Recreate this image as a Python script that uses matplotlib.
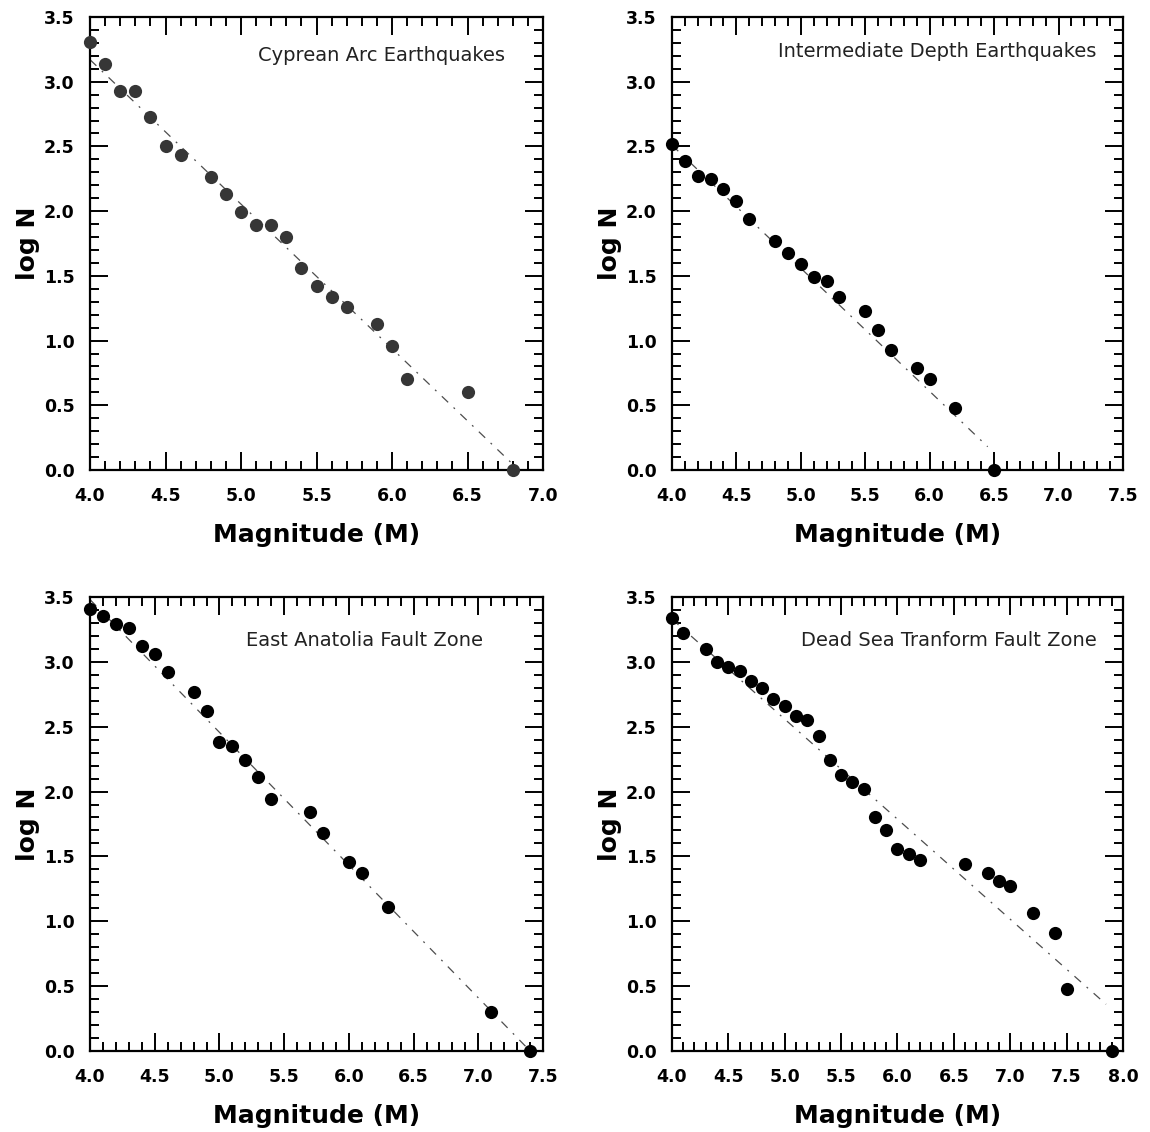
import matplotlib
matplotlib.use('Agg')
import matplotlib.pyplot as plt
from matplotlib.ticker import MultipleLocator

# --- data (magnitude vs log N) ---
cyp_m = [4.0, 4.1, 4.2, 4.3, 4.4, 4.5, 4.6, 4.8, 4.9, 5.0, 5.1, 5.2, 5.3,
         5.4, 5.5, 5.6, 5.7, 5.9, 6.0, 6.1, 6.5, 6.8]
cyp_logn = [3.31, 3.14, 2.93, 2.93, 2.73, 2.50, 2.43, 2.26, 2.13, 1.99, 1.89,
            1.89, 1.80, 1.56, 1.42, 1.34, 1.26, 1.13, 0.96, 0.70, 0.60, 0.0]
cyp_fit_m = [4.0, 6.84]
cyp_fit_logn = [3.17, 0.0]

int_m = [4.0, 4.1, 4.2, 4.3, 4.4, 4.5, 4.6, 4.8, 4.9, 5.0, 5.1, 5.2, 5.3,
         5.5, 5.6, 5.7, 5.9, 6.0, 6.2, 6.5]
int_logn = [2.52, 2.39, 2.27, 2.25, 2.17, 2.08, 1.94, 1.77, 1.68, 1.59, 1.49,
            1.46, 1.34, 1.23, 1.08, 0.93, 0.79, 0.70, 0.48, 0.0]
int_fit_m = [4.0, 6.45]
int_fit_logn = [2.51, 0.18]

eaf_m = [4.0, 4.1, 4.2, 4.3, 4.4, 4.5, 4.6, 4.8, 4.9, 5.0, 5.1, 5.2, 5.3,
         5.4, 5.7, 5.8, 6.0, 6.1, 6.3, 7.1, 7.4]
eaf_logn = [3.41, 3.35, 3.29, 3.26, 3.12, 3.06, 2.92, 2.77, 2.62, 2.38, 2.35,
            2.24, 2.11, 1.94, 1.84, 1.68, 1.46, 1.37, 1.11, 0.30, 0.0]
eaf_fit_m = [4.0, 7.4]
eaf_fit_logn = [3.48, 0.0]

dst_m = [4.0, 4.1, 4.3, 4.4, 4.5, 4.6, 4.7, 4.8, 4.9, 5.0, 5.1, 5.2, 5.3,
         5.4, 5.5, 5.6, 5.7, 5.8, 5.9, 6.0, 6.1, 6.2, 6.6, 6.8, 6.9, 7.0,
         7.2, 7.4, 7.5, 7.9]
dst_logn = [3.34, 3.22, 3.10, 3.00, 2.96, 2.93, 2.85, 2.80, 2.71, 2.66, 2.58,
            2.55, 2.43, 2.24, 2.13, 2.07, 2.02, 1.80, 1.70, 1.56, 1.52, 1.47,
            1.44, 1.37, 1.31, 1.27, 1.06, 0.91, 0.48, 0.0]
dst_fit_m = [4.0, 7.85]
dst_fit_logn = [3.33, 0.36]

titles = ['Cyprean Arc Earthquakes', 'Intermediate Depth Earthquakes',
          'East Anatolia Fault Zone', 'Dead Sea Tranform Fault Zone']
x_max = [7.0, 7.5, 7.5, 8.0]

fig = plt.figure(figsize=(11.5, 11.32), dpi=100)

# axes boxes measured in pixels of the reference: left, bottom, width, height
boxes = [
  [0.0783, 0.5848, 0.3939, 0.4002],
  [0.5843, 0.5848, 0.3922, 0.4002],
  [0.0783, 0.0716, 0.3939, 0.4010],
  [0.5843, 0.0716, 0.3922, 0.4010],
]
text_pos = [(0.916, 0.916), (0.942, 0.923), (0.868, 0.905), (0.942, 0.905)]
marker_colors = ['#363636', 'black', 'black', 'black']

panels = [
  (cyp_m, cyp_logn, cyp_fit_m, cyp_fit_logn),
  (int_m, int_logn, int_fit_m, int_fit_logn),
  (eaf_m, eaf_logn, eaf_fit_m, eaf_fit_logn),
  (dst_m, dst_logn, dst_fit_m, dst_fit_logn),
]

for i, (m, logn, fm, flogn) in enumerate(panels):
  ax = fig.add_axes(boxes[i])
  ax.plot(fm, flogn, color='0.3', linewidth=0.9,
          linestyle=(0, (7, 6, 1.5, 6)), zorder=2)
  ax.plot(m, logn, linestyle='none', marker='o', markersize=9.5,
          color=marker_colors[i], markeredgewidth=0, zorder=3, clip_on=False)

  ax.set_xlim(4.0, x_max[i])
  ax.set_ylim(0.0, 3.5)
  ax.xaxis.set_major_locator(MultipleLocator(0.5))
  ax.xaxis.set_minor_locator(MultipleLocator(0.1))
  ax.yaxis.set_major_locator(MultipleLocator(0.5))
  ax.yaxis.set_minor_locator(MultipleLocator(0.1))
  ax.xaxis.set_major_formatter(matplotlib.ticker.FormatStrFormatter('%.1f'))
  ax.yaxis.set_major_formatter(matplotlib.ticker.FormatStrFormatter('%.1f'))

  ax.tick_params(which='both', direction='in', top=True, right=True, width=1.4)
  ax.tick_params(which='major', length=13, labelsize=12.5)
  ax.tick_params(axis='x', which='major', pad=12)
  ax.tick_params(axis='y', which='major', pad=11)
  ax.tick_params(which='minor', length=6.5)
  for lab in ax.get_xticklabels() + ax.get_yticklabels():
    lab.set_fontweight('bold')
  for sp in ax.spines.values():
    sp.set_linewidth(1.6)

  ax.set_xlabel('Magnitude (M)', fontsize=18, fontweight='bold', labelpad=13)
  ax.set_ylabel('log N', fontsize=18, fontweight='bold', labelpad=3)

  tx, ty = text_pos[i]
  ax.text(tx, ty, titles[i], transform=ax.transAxes, ha='right', va='center',
          fontsize=14, color='#222222')

fig.savefig('out.png', dpi=100)
